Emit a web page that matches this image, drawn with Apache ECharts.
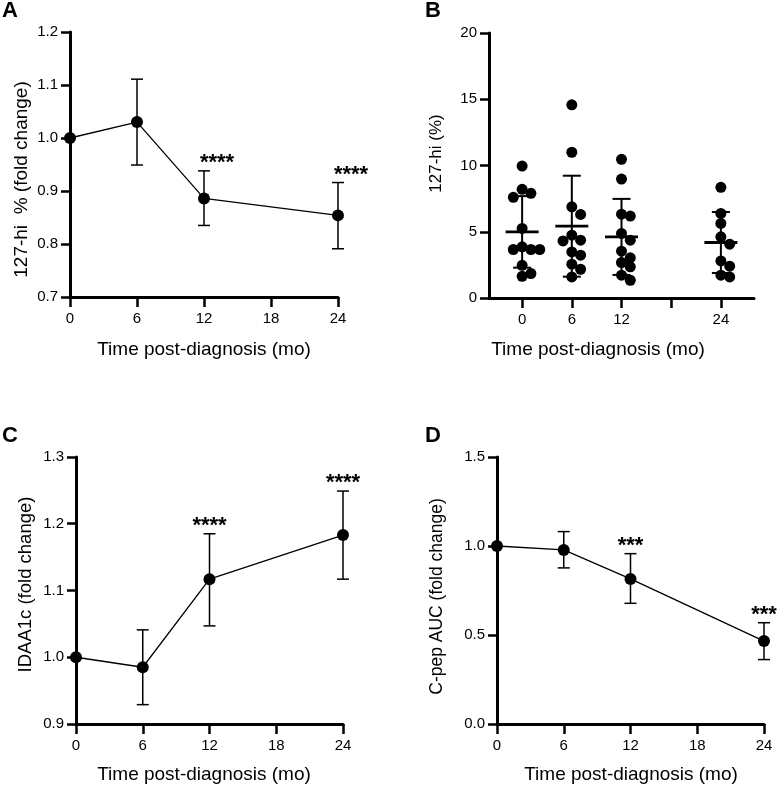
<!DOCTYPE html>
<html><head><meta charset="utf-8">
<script src="https://cdn.jsdelivr.net/npm/echarts@6/dist/echarts.min.js"></script>
<style>html,body{margin:0;padding:0;background:#fff}#c{width:778px;height:786px}</style>
</head><body><div id="c"></div>
<script>
// ---------- data ----------
const months = [0, 6, 12, 24];
const xTicks = [0, 6, 12, 18, 24];
const xTitle = 'Time post-diagnosis (mo)';

// Panel A: 127-hi % (fold change)
const aMean = [1.0, 1.03, 0.886, 0.854];
const aLow  = [1.0, 0.949, 0.835, 0.791];
const aHigh = [1.0, 1.111, 0.938, 0.916];
const aSig  = ['', '', '****', '****'];
const aTicks = [0.7, 0.8, 0.9, 1.0, 1.1, 1.2];

// Panel B: 127-hi (%) individual values
const b0  = [9.96, 8.2, 7.9, 7.6, 5.25, 3.86, 3.66, 3.66, 3.66, 2.47, 1.85, 1.64];
const b6  = [14.58, 11.0, 6.88, 6.31, 4.74, 4.36, 4.31, 3.48, 3.23, 2.55, 2.17, 1.59];
const b12 = [10.47, 8.98, 6.33, 6.18, 4.87, 4.36, 3.53, 3.03, 2.68, 2.35, 1.72, 1.34];
const b24 = [8.35, 6.38, 5.63, 4.62, 4.06, 2.8, 2.4, 1.72, 1.59];
const bMean = [4.99, 5.42, 4.61, 4.19];
const bSD   = [2.7, 3.81, 2.87, 2.3];
const bTicks = [0, 5, 10, 15, 20];

// Panel C: IDAA1c (fold change)
const cMean = [1.0, 0.985, 1.117, 1.183];
const cLow  = [1.0, 0.929, 1.047, 1.117];
const cHigh = [1.0, 1.041, 1.185, 1.249];
const cSig  = ['', '', '****', '****'];
const cTicks = [0.9, 1.0, 1.1, 1.2, 1.3];

// Panel D: C-pep AUC (fold change)
const dMean = [1.0, 0.978, 0.815, 0.466];
const dLow  = [1.0, 0.877, 0.678, 0.362];
const dHigh = [1.0, 1.081, 0.957, 0.569];
const dSig  = ['', '', '***', '***'];
const dTicks = [0.0, 0.5, 1.0, 1.5];

// ---------- layout / style ----------
const FF = '"Liberation Sans", Arial, Helvetica, sans-serif';
const grids = [
  {left: 70,  top: 32,  width: 268, height: 265},
  {left: 489, top: 33,  width: 265, height: 265},
  {left: 76,  top: 457, width: 267, height: 267},
  {left: 497, top: 457, width: 267, height: 267}
];

function xAxisCfg(idx, extra) {
  return Object.assign({
    type: 'value', gridIndex: idx, min: 0, max: 24, interval: 6,
    axisLine: {show: true, onZero: false, lineStyle: {color: '#000', width: 3}},
    axisTick: {show: true, length: 10, lineStyle: {color: '#000', width: 2.5}},
    axisLabel: {color: '#000', fontSize: 15, fontFamily: FF, margin: 14},
    splitLine: {show: false}
  }, extra || {});
}
function yAxisCfg(idx, ticks, dec) {
  return {
    type: 'value', gridIndex: idx, min: ticks[0], max: ticks[ticks.length - 1],
    interval: ticks[1] - ticks[0],
    axisLine: {show: true, onZero: false, lineStyle: {color: '#000', width: 3}},
    axisTick: {show: true, length: 9, lineStyle: {color: '#000', width: 2.5}},
    axisLabel: {color: '#000', fontSize: 15, fontFamily: FF, margin: 12,
      formatter: v => dec ? Number(v).toFixed(dec) : String(Math.round(v))},
    splitLine: {show: false}
  };
}

function lineSeries(idx, mean) {
  return {
    type: 'line', xAxisIndex: idx, yAxisIndex: idx, z: 4,
    data: months.map((m, i) => [m, mean[i]]),
    symbol: 'circle', symbolSize: 12,
    lineStyle: {color: '#000', width: 1.3},
    itemStyle: {color: '#000'},
    animation: false
  };
}
function errSeries(idx, low, high, sig, starDx) {
  return {
    type: 'custom', xAxisIndex: idx, yAxisIndex: idx, z: 3, clip: false,
    data: months.map((m, i) => [m, low[i], high[i], i]),
    renderItem(params, api) {
      const x = api.value(0), lo = api.value(1), hi = api.value(2), i = api.value(3);
      const pLo = api.coord([x, lo]), pHi = api.coord([x, hi]);
      const ch = [];
      const st = {stroke: '#000', lineWidth: 1.5};
      if (hi > lo) {
        const w = 6;
        ch.push({type: 'line', shape: {x1: pLo[0], y1: pLo[1], x2: pHi[0], y2: pHi[1]}, style: st});
        ch.push({type: 'line', shape: {x1: pLo[0] - w, y1: pLo[1], x2: pLo[0] + w, y2: pLo[1]}, style: st});
        ch.push({type: 'line', shape: {x1: pHi[0] - w, y1: pHi[1], x2: pHi[0] + w, y2: pHi[1]}, style: st});
      }
      if (sig[i]) {
        ch.push({type: 'text', x: pHi[0] + starDx, y: pHi[1] - 8,
          style: {text: sig[i], fontSize: 22, fontWeight: 'bold', fontFamily: FF, fill: '#000', align: 'center', verticalAlign: 'middle'}});
      }
      return {type: 'group', children: ch};
    },
    animation: false
  };
}

// beeswarm offsets (pixels) so dots are spread sideways like a scatter dot plot
function swarm(vals, pxPerUnit, d) {
  const order = vals.map((v, i) => i).sort((a, b) => vals[b] - vals[a]);
  const placed = [];
  const off = new Array(vals.length).fill(0);
  const step = d * 0.8, minD = d * 0.8;
  for (const i of order) {
    const y = vals[i] * pxPerUnit;
    for (let k = 0; k < 60; k++) {
      const cand = k === 0 ? 0 : (k % 2 ? 1 : -1) * Math.ceil(k / 2) * step;
      if (placed.every(p => Math.hypot(p.x - cand, p.y - y) >= minD - 1e-6)) {
        off[i] = cand; placed.push({x: cand, y}); break;
      }
    }
  }
  return off;
}

const DOT = 11;
const bGroups = [b0, b6, b12, b24];
const pxPerB = grids[1].height / (bTicks[bTicks.length - 1] - bTicks[0]);
const dotData = [];
bGroups.forEach((g, gi) => {
  const off = swarm(g, pxPerB, DOT);
  g.forEach((v, j) => dotData.push([months[gi], v, off[j]]));
});

const bDots = {
  type: 'custom', xAxisIndex: 1, yAxisIndex: 1, z: 3,
  data: dotData,
  renderItem(params, api) {
    const p = api.coord([api.value(0), api.value(1)]);
    return {type: 'circle', shape: {cx: p[0] + api.value(2), cy: p[1], r: DOT / 2}, style: {fill: '#000'}};
  },
  animation: false
};
const bStats = {
  type: 'custom', xAxisIndex: 1, yAxisIndex: 1, z: 4,
  data: months.map((m, i) => [m, bMean[i], bSD[i]]),
  renderItem(params, api) {
    const x = api.value(0), mu = api.value(1), sd = api.value(2);
    const pm = api.coord([x, mu]), pt = api.coord([x, mu + sd]), pb = api.coord([x, mu - sd]);
    const st = {stroke: '#000', lineWidth: 2};
    return {type: 'group', children: [
      {type: 'line', shape: {x1: pt[0], y1: pt[1], x2: pb[0], y2: pb[1]}, style: st},
      {type: 'line', shape: {x1: pt[0] - 9, y1: pt[1], x2: pt[0] + 9, y2: pt[1]}, style: st},
      {type: 'line', shape: {x1: pb[0] - 9, y1: pb[1], x2: pb[0] + 9, y2: pb[1]}, style: st},
      {type: 'line', shape: {x1: pm[0] - 16.5, y1: pm[1], x2: pm[0] + 16.5, y2: pm[1]}, style: {stroke: '#000', lineWidth: 2.8}}
    ]};
  },
  animation: false
};

function txt(x, y, text, size, opts) {
  return Object.assign({
    type: 'text', x, y,
    style: {text, fontSize: size, fontFamily: FF, fill: '#000', align: 'center', verticalAlign: 'middle'}
  }, opts || {});
}
function panelLabel(x, y, t) {
  return {type: 'text', x, y, style: {text: t, fontSize: 22, fontWeight: 'bold', fontFamily: FF, fill: '#000', align: 'left', verticalAlign: 'middle'}};
}

const option = {
  backgroundColor: '#fff',
  animation: false,
  grid: grids.map(g => Object.assign({containLabel: false}, g)),
  xAxis: [
    xAxisCfg(0),
    xAxisCfg(1, {min: -4, max: 28, interval: undefined,
      axisTick: {show: true, length: 10, customValues: xTicks, lineStyle: {color: '#000', width: 2.5}},
      axisLabel: {color: '#000', fontSize: 15, fontFamily: FF, margin: 14, customValues: xTicks,
        formatter: v => (v === 18 ? '' : String(v))}}),
    xAxisCfg(2),
    xAxisCfg(3)
  ],
  yAxis: [
    yAxisCfg(0, aTicks, 1),
    yAxisCfg(1, bTicks, 0),
    yAxisCfg(2, cTicks, 1),
    yAxisCfg(3, dTicks, 1)
  ],
  series: [
    errSeries(0, aLow, aHigh, aSig, 13), lineSeries(0, aMean),
    bDots, bStats,
    errSeries(2, cLow, cHigh, cSig, 0), lineSeries(2, cMean),
    errSeries(3, dLow, dHigh, dSig, 0), lineSeries(3, dMean)
  ],
  graphic: [
    panelLabel(2, 11, 'A'), panelLabel(425, 11, 'B'), panelLabel(2, 436, 'C'), panelLabel(425, 436, 'D'),
    txt(204, 350, xTitle, 19), txt(598, 350, xTitle, 19),
    txt(204, 775, xTitle, 19), txt(631, 775, xTitle, 19),
    txt(22, 179.5, '127-hi  % (fold change)', 19, {rotation: Math.PI / 2}),
    txt(436, 153.5, '127-hi (%)', 17, {rotation: Math.PI / 2}),
    txt(26, 584.5, 'IDAA1c (fold change)', 18.5, {rotation: Math.PI / 2}),
    txt(437.5, 596.5, 'C-pep AUC (fold change)', 17.5, {rotation: Math.PI / 2})
  ]
};
const chart = echarts.init(document.getElementById('c'), null, {renderer: 'canvas'});
chart.setOption(option);
</script></body></html>
